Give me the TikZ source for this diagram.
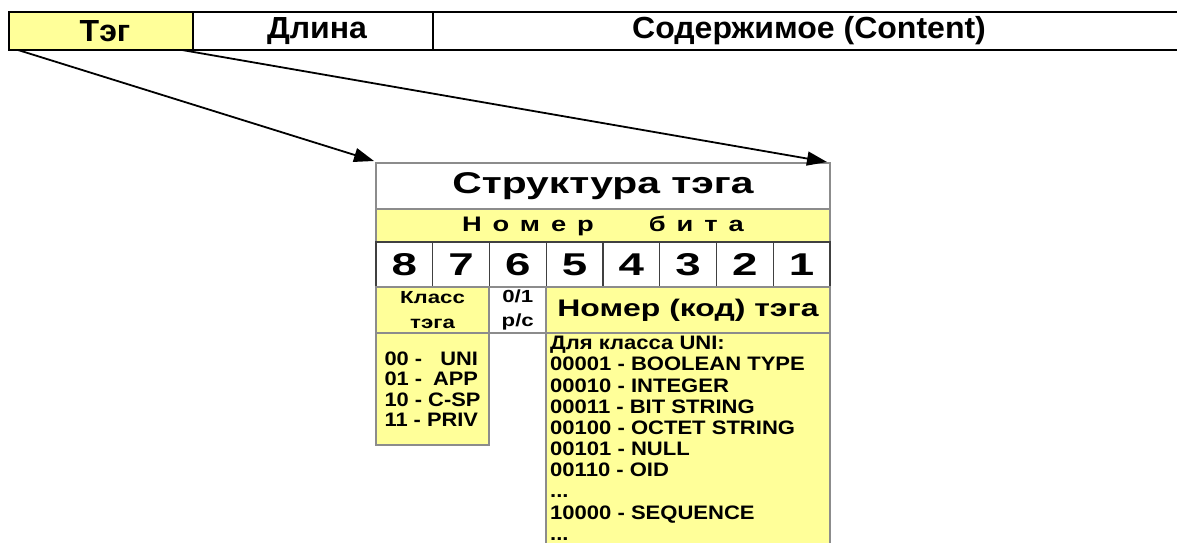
\documentclass[tikz,border=0pt]{standalone}
\usepackage{fontspec}
\setmainfont{Liberation Sans}
\usetikzlibrary{arrows.meta}

\definecolor{tagyellow}{HTML}{FFFF99}
\definecolor{rulegray}{HTML}{8C8C8C}

% bold face at a given size, widened by a given factor
\newcommand\widebf[2]{\bfseries\fontsize{#1}{#1}\selectfont\addfontfeature{FakeStretch=#2}}

\tikzset{
  bar/.style={draw=black, line width=1.5pt, minimum height=38pt, anchor=north west,
    inner sep=0pt, outer sep=0pt, font=\widebf{30.5}{1.05},
    execute at begin node={\hspace*{8pt}}},
  cell/.style={draw=rulegray, line width=1.2pt, anchor=north west, inner sep=0pt,
    outer sep=0pt, font=\bfseries},
  pointer/.style={line width=1.8pt, -{Triangle[length=20pt,width=14pt]}},
}

\begin{document}
\begin{tikzpicture}[x=1pt,y=-1pt]
  \useasboundingbox (0,0) rectangle (1177,543);

  % the encoded field: tag | length | content
  \node[bar, fill=tagyellow, minimum width=184pt] (tag) at (9,12) {Тэг};
  \node[bar, minimum width=240pt] (len) at (tag.north east) {Длина};
  \node[bar, draw=none, minimum width=744pt] (content) at (len.north east) {Содержимое (Content)};
  \draw[line width=1.5pt] (len.north east) -- (content.north east)
                          (len.south east) -- (content.south east);

  % tag layout
  \node[cell, fill=white, minimum width=454pt, minimum height=46pt,
        font=\widebf{30}{1.36}] (title) at (376,163) {Структура тэга};
  \node[cell, fill=tagyellow, minimum width=454pt, minimum height=33pt,
        font=\widebf{21}{1.3}\addfontfeature{LetterSpace=52}]
        (bitno) at (376,209) {Номер\hspace{55pt}бита};
  \foreach \d [count=\i from 0] in {8,7,6,5,4,3,2,1}
    \node[cell, draw=black!75, minimum width=56.75pt, minimum height=45pt,
          font=\widebf{31.5}{1.45}] (bit\d) at (376+56.75*\i,242) {\d};

  \node[cell, fill=tagyellow, minimum width=113pt, minimum height=46pt, align=center,
        font=\widebf{17.5}{1.27}\linespread{1.4}\selectfont] (cls) at (376,287) {Класс\\тэга};
  \node[cell, fill=white, minimum width=57.5pt, minimum height=46pt, align=center,
        font=\widebf{17.5}{1.27}\linespread{1.4}\selectfont] (pc) at (489,287) {0/1\\p/c};
  \node[cell, fill=tagyellow, minimum width=284pt, minimum height=46pt,
        font=\widebf{24}{1.33}] (code) at (546,287) {Номер (код) тэга};

  \node[cell, fill=tagyellow, minimum width=113pt, minimum height=112pt, align=left,
        font=\widebf{19.5}{1.12}\linespread{1.05}\selectfont] (clsval) at (376,333)
        {\global\setbox1\hbox{11 - PRIV}\makebox[\wd1][s]{00 -\hfill UNI}\\
         \makebox[\wd1][s]{01 -\hfill APP}\\10 - C-SP\\11 - PRIV};

  % code list runs on below the page edge
  \fill[tagyellow] (546,333) rectangle (830,543);
  \draw[rulegray, line width=1.2pt] (546,543) -- (546,333) -- (830,333) -- (830,543);
  \node[anchor=north west, align=left, inner sep=0pt,
        font=\widebf{19.5}{1.13}\linespread{1.087}\selectfont] (codelist) at (550,336)
        {Для класса UNI:\\00001 - BOOLEAN TYPE\\00010 - INTEGER\\00011 - BIT STRING\\
         00100 - OCTET STRING\\00101 - NULL\\00110 - OID\\...\\10000 - SEQUENCE\\...};

  % tag cell opens up into its layout
  \draw[pointer] ([xshift=9pt]tag.south west) -- ([xshift=-2pt,yshift=2pt]title.north west);
  \draw[pointer] ([xshift=-11pt]tag.south east) -- ([xshift=-3pt,yshift=1pt]title.north east);
\end{tikzpicture}
\end{document}
